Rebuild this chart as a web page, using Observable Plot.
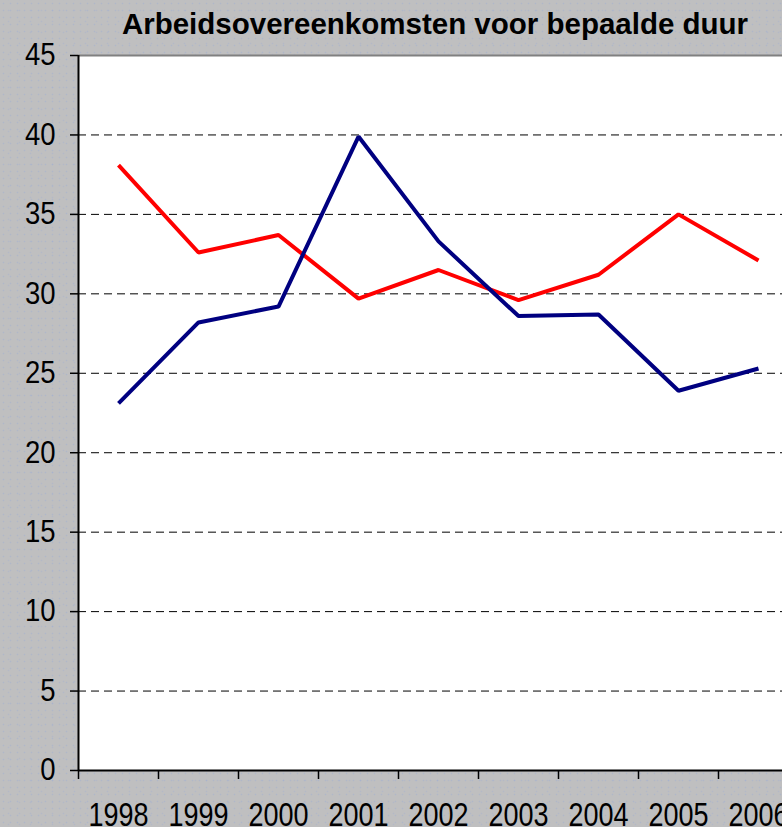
<!DOCTYPE html>
<html>
<head>
<meta charset="utf-8">
<script src="https://cdn.jsdelivr.net/npm/d3@7"></script>
<script src="https://cdn.jsdelivr.net/npm/@observablehq/plot@0.6"></script>
<style>
  html, body { margin: 0; padding: 0; }
  body {
    width: 782px; height: 827px; overflow: hidden;
    background-color: #bfbfc0;
    background-image: radial-gradient(circle, rgba(150,170,215,0.35) 0.8px, transparent 1.1px),
                      radial-gradient(circle, rgba(150,170,215,0.25) 0.8px, transparent 1.1px);
    background-size: 7px 7px, 11px 11px;
    background-position: 0 0, 3px 5px;
    font-family: "Liberation Sans", Arial, sans-serif;
  }
  #title {
    height: 45px; width: 720px; margin-left: 75px;
    text-align: center; font-weight: bold; font-size: 29.5px;
    line-height: 47px; color: #000; white-space: nowrap;
  }
  #chart svg { display: block; overflow: visible; }
</style>
</head>
<body>
<div id="title">Arbeidsovereenkomsten voor bepaalde duur</div>
<div id="chart"></div>
<script>
const years = ["1998", "1999", "2000", "2001", "2002", "2003", "2004", "2005", "2006"];
const redValues = [38.1, 32.6, 33.7, 29.7, 31.5, 29.6, 31.2, 35.0, 32.1];
const blueValues = [23.1, 28.2, 29.2, 39.9, 33.3, 28.6, 28.7, 23.9, 25.3];
const seriesNames = ["reeks1", "reeks2"];
const seriesColors = ["#ff0000", "#000080"];
const yTicks = [0, 5, 10, 15, 20, 25, 30, 35, 40, 45];
const gridValues = [5, 10, 15, 20, 25, 30, 35, 40];

const data = [
  ...years.map((y, i) => ({i, year: y, value: redValues[i], series: seriesNames[0]})),
  ...years.map((y, i) => ({i, year: y, value: blueValues[i], series: seriesNames[1]}))
];
const idx = years.map((_, i) => i);
const bounds = [...idx.map(i => i - 0.5), years.length - 0.5];

const chart = Plot.plot({
  width: 782,
  height: 782,
  marginTop: 10,
  marginBottom: 57,
  marginLeft: 78,
  marginRight: 0,
  style: {background: "transparent", fontFamily: "'Liberation Sans', Arial, sans-serif", fontSize: "27.5px", color: "#000"},
  x: {type: "linear", domain: [-0.5, years.length - 0.5], range: [78, 798]},
  y: {domain: [0, 45], range: [725, 10]},
  color: {domain: seriesNames, range: seriesColors},
  marks: [
    Plot.rect([0], {x1: -0.5, x2: years.length - 0.5, y1: 0, y2: 45, fill: "white"}),
    Plot.ruleY([45], {stroke: "#808080", strokeWidth: 2}),
    Plot.ruleY(gridValues, {stroke: "#000", strokeWidth: 1, strokeDasharray: "8,5"}),
    Plot.axisY({ticks: yTicks, tickSize: 8, tickPadding: 15, label: null, stroke: "#000", strokeWidth: 1.5}),
    Plot.axisX({ticks: bounds, tickSize: 9, tickFormat: () => "", label: null, strokeWidth: 1.5}),
    Plot.axisX({ticks: idx, tickSize: 0, tickPadding: 32, tickFormat: i => years[i], label: null, fontSize: 27}),
    Plot.ruleX([-0.5], {stroke: "#000", strokeWidth: 2}),
    Plot.ruleY([0], {stroke: "#000", strokeWidth: 2}),
    Plot.line(data, {x: "i", y: "value", z: "series", stroke: "series", strokeWidth: 4, strokeLinejoin: "miter", strokeLinecap: "butt"})
  ]
});
document.getElementById("chart").append(chart);

// stretch tick labels vertically, like the reference's tall glyphs
function stretch(selector, sy) {
  chart.querySelectorAll(selector).forEach(t => {
    const tr = t.getAttribute("transform") || "";
    t.setAttribute("transform", tr + ` scale(1,${sy})`);
  });
}
stretch('g[aria-label="x-axis tick label"] text', 1.22);
stretch('g[aria-label="y-axis tick label"] text', 1.12);
</script>
</body>
</html>
